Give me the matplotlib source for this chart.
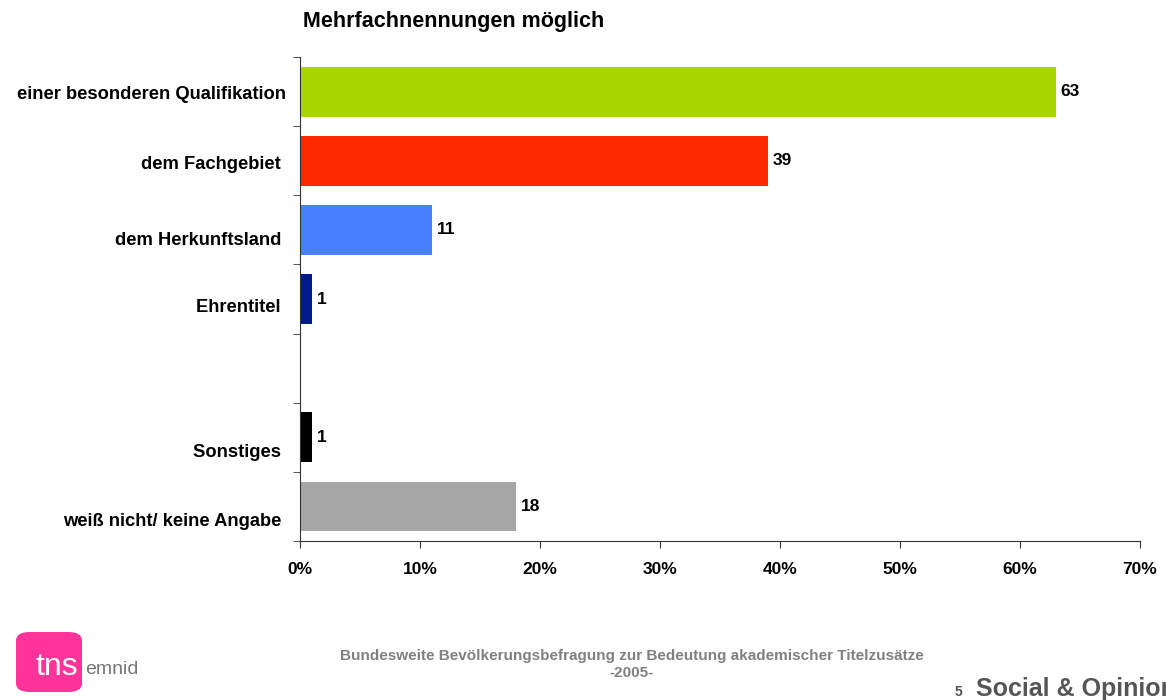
import matplotlib.pyplot as plt
import numpy as np
from matplotlib.patches import FancyBboxPatch
import matplotlib.transforms as mtransforms

plt.rcParams['font.family'] = ['Liberation Sans', 'DejaVu Sans']

# data
categories = ['einer besonderen Qualifikation', 'dem Fachgebiet ', 'dem Herkunftsland ',
              'Ehrentitel ', 'Sonstiges ', 'weiß nicht/ keine Angabe ']
values = [63, 39, 11, 1, 1, 18]
slots = [0, 1, 2, 3, 5, 6]   # slot 4 left empty
colors = ['#A8D400', '#FF2A00', '#4680FF', '#001A8C', '#000000', '#A6A6A6']
xticks = [0, 10, 20, 30, 40, 50, 60, 70]

fig = plt.figure(figsize=(11.66, 7), dpi=100)
ax = fig.add_axes([0.2573, 0.2271, 0.7204, 0.6914])

ax.barh(slots, values, height=0.72, color=colors)
for s, v in zip(slots, values):
    ax.text(v + 0.4, s, str(v), va='center', ha='left', fontsize=12.5, fontweight='bold')

ax.set_xlim(0, 70)
ax.set_ylim(6.5, -0.5)
ax.set_xticks(xticks)
ax.set_xticklabels([f'{t}%' for t in xticks], fontsize=12.5, fontweight='bold')
ax.tick_params(axis='x', length=5, pad=10, color='#333333')

ax.set_yticks(slots)
ax.set_yticklabels(categories, fontsize=13.2, fontweight='bold')
ax.tick_params(axis='y', which='major', length=0, pad=10)
ax.set_yticks(np.arange(-0.5, 7, 1), minor=True)
ax.tick_params(axis='y', which='minor', length=5, color='#333333')

# small vertical shifts of the category labels, as in the original slide
shifts = [-1, -2, -9, -6, -13, -13]
for lab, dy in zip(ax.get_yticklabels(), shifts):
    lab.set_transform(lab.get_transform() + mtransforms.ScaledTranslation(0, dy / 100, fig.dpi_scale_trans))

for sp in ['top', 'right']:
    ax.spines[sp].set_visible(False)
ax.spines['left'].set_color('#333333')
ax.spines['bottom'].set_color('#333333')

fig.text(303 / 1166, 1 - 22 / 700, 'Mehrfachnennungen möglich', fontsize=15.5, fontweight='bold',
         va='center', ha='left')

# footer
fig.text(632 / 1166, 1 - 656 / 700, 'Bundesweite Bevölkerungsbefragung zur Bedeutung akademischer Titelzusätze',
         fontsize=11, fontweight='bold', color='#808080', ha='center', va='center')
fig.text(632 / 1166, 1 - 673 / 700, '-2005-', fontsize=11, fontweight='bold', color='#808080',
         ha='center', va='center')
fig.text(955 / 1166, 1 - 692 / 700, '5', fontsize=10, fontweight='bold', color='#555555',
         ha='left', va='center')
fig.text(976 / 1166, 1 - 689 / 700, 'Social & Opinion', fontsize=18, fontweight='bold', color='#555555',
         ha='left', va='center')

# logo
logo = FancyBboxPatch((16 / 1166, 1 - 692 / 700), 66 / 1166, 60 / 700,
                      boxstyle='round,pad=0,rounding_size=0.012', transform=fig.transFigure,
                      facecolor='#FF3399', edgecolor='none')
fig.add_artist(logo)
fig.text(35 / 1166, 1 - 667 / 700, 'tns', fontsize=23, color='white', ha='left', va='center')
fig.text(85 / 1166, 1 - 670 / 700, 'emnid', fontsize=14, color='#777777', ha='left', va='center')

fig.savefig('out.png', dpi=100)
